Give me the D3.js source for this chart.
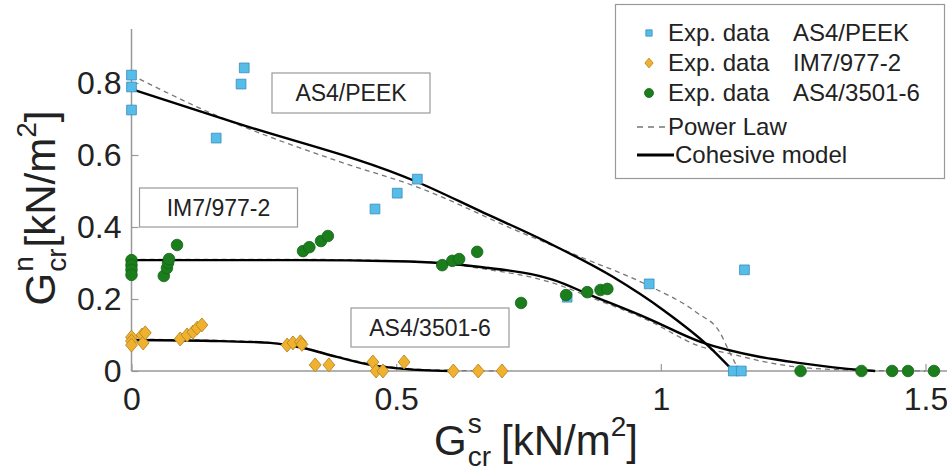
<!DOCTYPE html>
<html lang="en">
  <head>
    <meta charset="utf-8">
    <script src="https://d3js.org/d3.v7.min.js"></script>
    <style>
      body { margin: 0; background: #fff; }
      text { font-family: "Liberation Sans", Arial, sans-serif; fill: #222; }
    </style>
  </head>
  <body>
    <div id="chart">
      <svg width="947" height="474"></svg>
    </div>
    <script type="text/javascript">
      // Experimental data, AS4/PEEK (squares)
      var peekX = [0, 0, 0, 0.213, 0.207, 0.160, 0.540, 0.502, 0.460, 0.823, 0.978, 1.158, 1.137, 1.152];
      var peekY = [0.822, 0.789, 0.725, 0.842, 0.797, 0.647, 0.533, 0.494, 0.450, 0.205, 0.242, 0.281, 0, 0];
      // IM7/977-2 (diamonds)
      var im7X = [0, 0, 0, 0.020, 0.022, 0.026, 0.092, 0.105, 0.116, 0.124, 0.133,
                  0.294, 0.305, 0.319, 0.322, 0.347, 0.373, 0.456, 0.462, 0.475, 0.515, 0.608, 0.655, 0.700];
      var im7Y = [0.094, 0.083, 0.072, 0.100, 0.078, 0.106, 0.089, 0.100, 0.108, 0.119, 0.128,
                  0.072, 0.078, 0.081, 0.074, 0.017, 0.017, 0.025, 0, 0, 0.025, 0, 0, 0];
      // AS4/3501-6 (circles)
      var as4X = [0, 0, 0, 0, 0.061, 0.067, 0.069, 0.071, 0.086,
                  0.324, 0.336, 0.358, 0.371, 0.587, 0.606, 0.619, 0.653,
                  0.736, 0.821, 0.861, 0.886, 0.899, 1.264, 1.379, 1.437, 1.467, 1.516];
      var as4Y = [0.308, 0.294, 0.281, 0.267, 0.264, 0.286, 0.300, 0.311, 0.350,
                  0.333, 0.344, 0.361, 0.375, 0.294, 0.306, 0.311, 0.331,
                  0.189, 0.211, 0.219, 0.225, 0.228, 0, 0, 0, 0, 0];

      // Model curves
      var peekCohX = [0, 0.2, 0.54, 0.659, 0.785, 0.91, 1.005, 1.088, 1.137];
      var peekCohY = [0.783, 0.688, 0.525, 0.444, 0.358, 0.261, 0.169, 0.072, 0];
      var peekPowX = [0, 0.149, 0.394, 0.54, 0.734, 0.848, 0.974, 1.069, 1.112, 1.128, 1.148];
      var peekPowY = [0.822, 0.717, 0.581, 0.511, 0.386, 0.317, 0.239, 0.161, 0.106, 0.058, 0];
      var as4CohX = [0, 0.319, 0.5, 0.583, 0.659, 0.797, 0.867, 0.974, 1.075, 1.188, 1.264, 1.377, 1.405];
      var as4CohY = [0.308, 0.308, 0.305, 0.300, 0.289, 0.253, 0.211, 0.147, 0.081, 0.039, 0.022, 0.003, 0];
      var as4PowX = [0, 0.319, 0.5, 0.583, 0.659, 0.797, 0.867, 0.974, 1.075, 1.14, 1.188, 1.264, 1.377, 1.5];
      var as4PowY = [0.31, 0.31, 0.306, 0.300, 0.285, 0.244, 0.205, 0.142, 0.068, 0.045, 0.028, 0.01, 0.002, 0];
      var im7CohX = [0, 0.167, 0.262, 0.324, 0.388, 0.451, 0.513, 0.602];
      var im7CohY = [0.086, 0.083, 0.078, 0.064, 0.039, 0.017, 0.006, 0];
      var im7PowX = [0, 0.167, 0.262, 0.324, 0.388, 0.451, 0.513, 0.602, 0.7];
      var im7PowY = [0.088, 0.085, 0.079, 0.065, 0.041, 0.02, 0.008, 0.002, 0];

      var xTicks = [0, 0.5, 1, 1.5];
      var yTicks = [0, 0.2, 0.4, 0.6, 0.8];
      var materials = ["AS4/PEEK", "IM7/977-2", "AS4/3501-6"];

      var svg = d3.select("svg");

      var xScale = d3.scaleLinear().domain([0, 1.5]).range([131.5, 925.5]);
      var yScale = d3.scaleLinear().domain([0, 0.8]).range([371, 83]);

      // axes
      var xAxis = d3.axisBottom(xScale).tickValues(xTicks).tickSizeInner(-7).tickSizeOuter(0).tickPadding(16)
        .tickFormat(d3.format("~g"));
      var yAxis = d3.axisLeft(yScale).tickValues(yTicks).tickSizeInner(-7).tickSizeOuter(0).tickPadding(10)
        .tickFormat(d3.format("~g"));

      var gx = svg.append("g").attr("transform", "translate(0,371)").call(xAxis);
      var gy = svg.append("g").attr("transform", "translate(131.5,0)").call(yAxis);
      [gx, gy].forEach(function(g) {
        g.select(".domain").remove();
        g.selectAll(".tick line").attr("stroke", "#999").attr("stroke-width", 1.2);
        g.selectAll(".tick text").attr("fill", "#333")
          .style("font-family", "'Liberation Sans', Arial, sans-serif").style("font-size", "32px");
      });
      svg.append("line").attr("x1", 131.5).attr("x2", 947).attr("y1", 371).attr("y2", 371)
        .attr("stroke", "#999").attr("stroke-width", 1.5);
      svg.append("line").attr("x1", 131.5).attr("x2", 131.5).attr("y1", 371).attr("y2", yScale(0.95))
        .attr("stroke", "#999").attr("stroke-width", 1.5);

      // curves
      function drawCurve(xs, ys, dashed) {
        var pts = xs.map(function(x, i) { return [x, ys[i]]; });
        var line = d3.line()
          .x(function(d) { return xScale(d[0]); })
          .y(function(d) { return yScale(d[1]); })
          .curve(d3.curveMonotoneX);
        svg.append("path").datum(pts).attr("d", line).attr("fill", "none")
          .attr("stroke", dashed ? "#777" : "#000")
          .attr("stroke-width", dashed ? 1.3 : 2.4)
          .attr("stroke-dasharray", dashed ? "5,4" : null);
      }
      drawCurve(peekPowX, peekPowY, true);
      drawCurve(as4PowX, as4PowY, true);
      drawCurve(im7PowX, im7PowY, true);
      drawCurve(peekCohX, peekCohY, false);
      drawCurve(as4CohX, as4CohY, false);
      drawCurve(im7CohX, im7CohY, false);

      // markers
      var sq = d3.symbol().type(d3.symbolSquare).size(95);
      var dia = d3.symbol().type(d3.symbolSquare).size(70);
      svg.append("g").selectAll("path").data(peekX).join("path")
        .attr("d", sq)
        .attr("transform", function(d, i) { return "translate(" + xScale(d) + "," + yScale(peekY[i]) + ")"; })
        .attr("fill", "#56bde9").attr("stroke", "#3a8cbc").attr("stroke-width", 0.8);
      svg.append("g").selectAll("path").data(im7X).join("path")
        .attr("d", dia)
        .attr("transform", function(d, i) { return "translate(" + xScale(d) + "," + yScale(im7Y[i]) + ") scale(1,1.18) rotate(45)"; })
        .attr("fill", "#efb12e").attr("stroke", "#b98a2a").attr("stroke-width", 0.8);
      svg.append("g").selectAll("circle").data(as4X).join("circle")
        .attr("cx", function(d) { return xScale(d); })
        .attr("cy", function(d, i) { return yScale(as4Y[i]); })
        .attr("r", 5.8)
        .attr("fill", "#1b7d1b").attr("stroke", "#15661a").attr("stroke-width", 0.8);

      // material annotation boxes
      function labelBox(x, y, w, h, txt) {
        svg.append("rect").attr("x", x).attr("y", y).attr("width", w).attr("height", h)
          .attr("fill", "#fff").attr("stroke", "#999").attr("stroke-width", 1.2);
        svg.append("text").attr("x", x + w / 2).attr("y", y + h / 2 + 8)
          .attr("text-anchor", "middle").style("font-size", "23px").text(txt);
      }
      labelBox(272, 73, 158, 40, materials[0]);
      labelBox(139.5, 188, 158, 39, materials[1]);
      labelBox(351, 308, 158, 39, materials[2]);

      // legend
      var lg = svg.append("g");
      lg.append("rect").attr("x", 615.5).attr("y", 4.5).attr("width", 329).attr("height", 174)
        .attr("fill", "#fff").attr("stroke", "#999").attr("stroke-width", 1.2);
      var rowY = [33, 63, 93];
      lg.append("path").attr("d", d3.symbol().type(d3.symbolSquare).size(40))
        .attr("transform", "translate(649,33)").attr("fill", "#56bde9").attr("stroke", "#3a8cbc").attr("stroke-width", 0.8);
      lg.append("path").attr("d", d3.symbol().type(d3.symbolSquare).size(34))
        .attr("transform", "translate(649,63) scale(1,1.18) rotate(45)").attr("fill", "#efb12e").attr("stroke", "#b98a2a").attr("stroke-width", 0.8);
      lg.append("circle").attr("cx", 649).attr("cy", 93).attr("r", 4.5)
        .attr("fill", "#1b7d1b").attr("stroke", "#15661a").attr("stroke-width", 0.8);
      materials.forEach(function(m, i) {
        lg.append("text").attr("x", 668).attr("y", rowY[i] + 8).style("font-size", "24px").text("Exp. data");
        lg.append("text").attr("x", 793).attr("y", rowY[i] + 8).style("font-size", "24px").text(m);
      });
      lg.append("line").attr("x1", 637).attr("x2", 668).attr("y1", 127).attr("y2", 127)
        .attr("stroke", "#777").attr("stroke-width", 1.5).attr("stroke-dasharray", "6,5");
      lg.append("text").attr("x", 668).attr("y", 135).style("font-size", "24px").text("Power Law");
      lg.append("line").attr("x1", 637).attr("x2", 674).attr("y1", 155).attr("y2", 155)
        .attr("stroke", "#000").attr("stroke-width", 3);
      lg.append("text").attr("x", 675).attr("y", 163).style("font-size", "24px").text("Cohesive model");

      // axis titles built from pieces: G, stacked sup/sub, then unit
      function axisTitle(g, sup, space) {
        var fs = 42, small = 28;
        var t1 = g.append("text").attr("x", 0).attr("y", 0).style("font-size", fs + "px").text("G");
        var wG = t1.node().getComputedTextLength();
        var ts = g.append("text").attr("x", wG + 1).attr("y", -0.52 * fs).style("font-size", small + "px").text(sup);
        var tc = g.append("text").attr("x", wG + 1).attr("y", 0.25 * fs).style("font-size", small + "px").text("cr");
        var w2 = Math.max(ts.node().getComputedTextLength(), tc.node().getComputedTextLength());
        var x = wG + 1 + w2 + (space ? 10 : 1);
        var tu = g.append("text").attr("x", x).attr("y", 0).style("font-size", fs + "px").text("[kN/m");
        x += tu.node().getComputedTextLength();
        var t2 = g.append("text").attr("x", x).attr("y", -0.45 * fs).style("font-size", small + "px").text("2");
        x += t2.node().getComputedTextLength();
        var tb = g.append("text").attr("x", x).attr("y", 0).style("font-size", fs + "px").text("]");
        x += tb.node().getComputedTextLength();
        g.selectAll("text").attr("fill", "#333");
        return x;
      }
      var xt = svg.append("g");
      var wx = axisTitle(xt, "s", true);
      xt.attr("transform", "translate(" + (536 - wx / 2) + ",455)");
      var yt = svg.append("g");
      var wy = axisTitle(yt, "n", false);
      yt.attr("transform", "translate(55," + (208 + wy / 2) + ") rotate(-90)");
    </script>
  </body>
</html>
